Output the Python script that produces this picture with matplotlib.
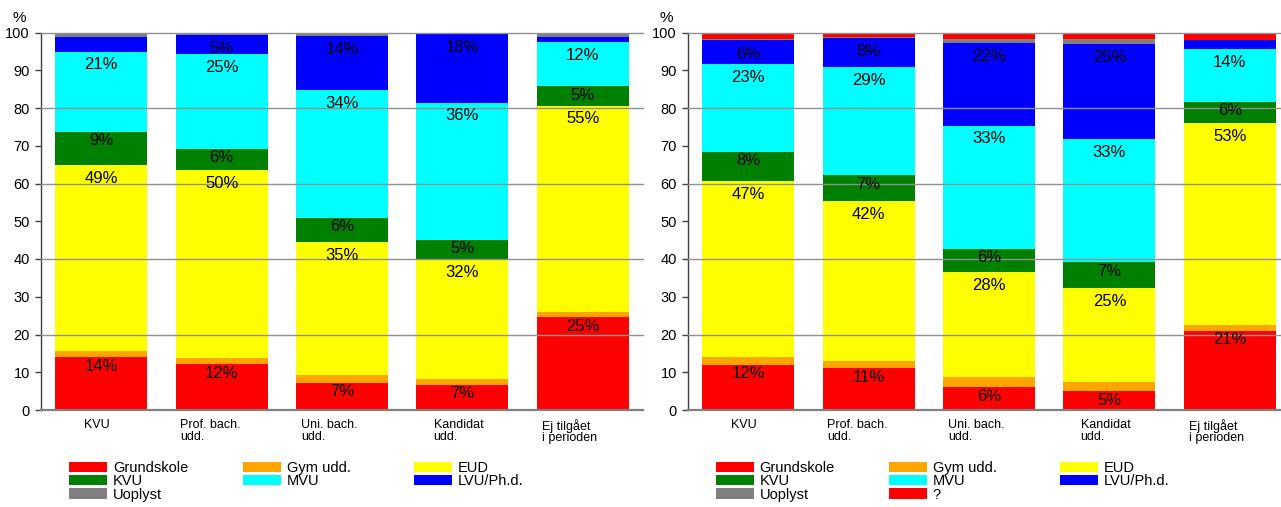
import matplotlib
matplotlib.use('Agg')
import matplotlib.pyplot as plt
import matplotlib.transforms as mtransforms
import numpy as np

plt.rcParams['font.family'] = ['Liberation Sans', 'DejaVu Sans']

# ---------------- data ----------------
categories = ['KVU', 'Prof. bach.\nudd.', 'Uni. bach.\nudd.', 'Kandidat\nudd.', 'Ej tilgået\ni perioden']

left_series = ['Grundskole', 'Gym udd.', 'EUD', 'KVU', 'MVU', 'LVU/Ph.d.', 'Uoplyst']
left_grundskole = [14.0, 12.2, 7.2, 6.7, 24.6]
left_gym = [1.6, 1.6, 2.1, 1.5, 1.4]
left_eud = [49.3, 49.7, 35.2, 31.8, 54.6]
left_kvu = [8.8, 5.7, 6.4, 5.1, 5.2]
left_mvu = [21.2, 25.0, 33.8, 36.3, 11.6]
left_lvu = [4.0, 5.1, 14.3, 18.1, 1.3]
left_uoplyst = [1.1, 0.7, 1.0, 0.5, 1.3]

right_series = ['Grundskole', 'Gym udd.', 'EUD', 'KVU', 'MVU', 'LVU/Ph.d.', 'Uoplyst', '?']
right_grundskole = [12.0, 11.1, 6.1, 5.0, 21.0]
right_gym = [2.1, 2.0, 2.6, 2.4, 1.5]
right_eud = [46.6, 42.2, 27.8, 24.8, 53.4]
right_kvu = [7.7, 6.9, 6.2, 6.9, 5.8]
right_mvu = [23.2, 28.7, 32.6, 32.6, 13.8]
right_lvu = [6.3, 7.6, 22.0, 25.2, 2.6]
right_uoplyst = [0.3, 0.2, 1.1, 1.5, 0.0]
right_unknown = [1.8, 1.3, 1.6, 1.6, 1.9]

left_values = [left_grundskole, left_gym, left_eud, left_kvu, left_mvu, left_lvu, left_uoplyst]
right_values = [right_grundskole, right_gym, right_eud, right_kvu, right_mvu, right_lvu,
                right_uoplyst, right_unknown]

# ---------------- style ----------------
COLORS = {'Grundskole': '#FF0000', 'Gym udd.': '#FFA500', 'EUD': '#FFFF00',
          'KVU': '#008000', 'MVU': '#00FFFF', 'LVU/Ph.d.': '#0000FF',
          'Uoplyst': '#808080', '?': '#FF0000'}
LABEL_DROP = {'Grundskole': 2.4, 'Gym udd.': 2.5, 'EUD': 3.5, 'KVU': 2.4,
              'MVU': 3.5, 'LVU/Ph.d.': 3.6, 'Uoplyst': 2.0, '?': 2.0}
XLABEL_OFFSET = [-0.14, -0.345, -0.34, -0.24, -0.34]
LEGEND_COLUMNS = [[0, 3, 6], [1, 4, 7], [2, 5]]
GRID_LEVELS = [20, 40, 60, 80, 100]

W, H = 1281, 507
fig = plt.figure(figsize=(W / 100, H / 100), dpi=100)


def px_to_fig(x0, y_top, width, y_bottom):
    return [x0 / W, (H - y_bottom) / H, width / W, (y_bottom - y_top) / H]


def draw(ax, series, values, legend_x):
    x = np.arange(len(categories))
    bottom = np.zeros(len(categories))
    handles = []
    for name, vals in zip(series, values):
        vals = np.asarray(vals, dtype=float)
        bc = ax.bar(x, vals, width=0.764, bottom=bottom, color=COLORS[name],
                    label=name, linewidth=0, zorder=1)
        handles.append(bc)
        for i, v in enumerate(vals):
            if round(v) >= 5:
                top = bottom[i] + v
                ax.text(x[i], top - LABEL_DROP[name], f'{round(v)}%', ha='center',
                        va='center', fontsize=12, color='black', zorder=4)
        bottom += vals

    ax.set_xlim(-0.5, 4.5)
    ax.set_ylim(0, 100)
    ax.set_yticks(np.arange(0, 101, 10))
    for g in GRID_LEVELS:
        ax.axhline(g, color='#909090', linewidth=1.0, zorder=3, clip_on=False)
    ax.tick_params(axis='y', which='major', direction='out', length=4, width=1,
                   color='#404040', labelsize=10.5, pad=4)
    ax.set_xticks([])
    for s in ['top', 'right']:
        ax.spines[s].set_visible(False)
    ax.spines['left'].set_color('#404040')
    ax.spines['left'].set_linewidth(1.0)
    ax.spines['bottom'].set_color('#808080')
    ax.spines['bottom'].set_linewidth(1.6)
    ax.spines['bottom'].set_zorder(5)

    trans = mtransforms.blended_transform_factory(ax.transData, ax.transAxes)
    for i, (lab, off) in enumerate(zip(categories, XLABEL_OFFSET)):
        ax.annotate(lab, xy=(i + off, 0), xycoords=trans, xytext=(0, -9),
                    textcoords='offset pixels', ha='left', va='top', fontsize=9,
                    linespacing=0.95, annotation_clip=False)

    ax.annotate('%', xy=(0, 1), xycoords='axes fraction', xytext=(-22, 14),
                textcoords='offset pixels', ha='center', va='center', fontsize=11)

    for col, xpix in zip(LEGEND_COLUMNS, legend_x):
        hs = [handles[k] for k in col if k < len(handles)]
        ls = [series[k] for k in col if k < len(series)]
        if not hs:
            continue
        fig.legend(hs, ls, loc='upper left', bbox_to_anchor=(xpix / W, (H - 461) / H),
                   frameon=False, fontsize=10.5, handlelength=2.6, handleheight=0.7,
                   handletextpad=0.4, labelspacing=-0.05, borderpad=0, borderaxespad=0)


ax1 = fig.add_axes(px_to_fig(41, 32.5, 602, 410))
ax2 = fig.add_axes(px_to_fig(688, 32.5, 602, 410))

draw(ax1, left_series, left_values, [69, 243, 414])
draw(ax2, right_series, right_values, [716, 889, 1060])

fig.savefig('out.png', dpi=100)
